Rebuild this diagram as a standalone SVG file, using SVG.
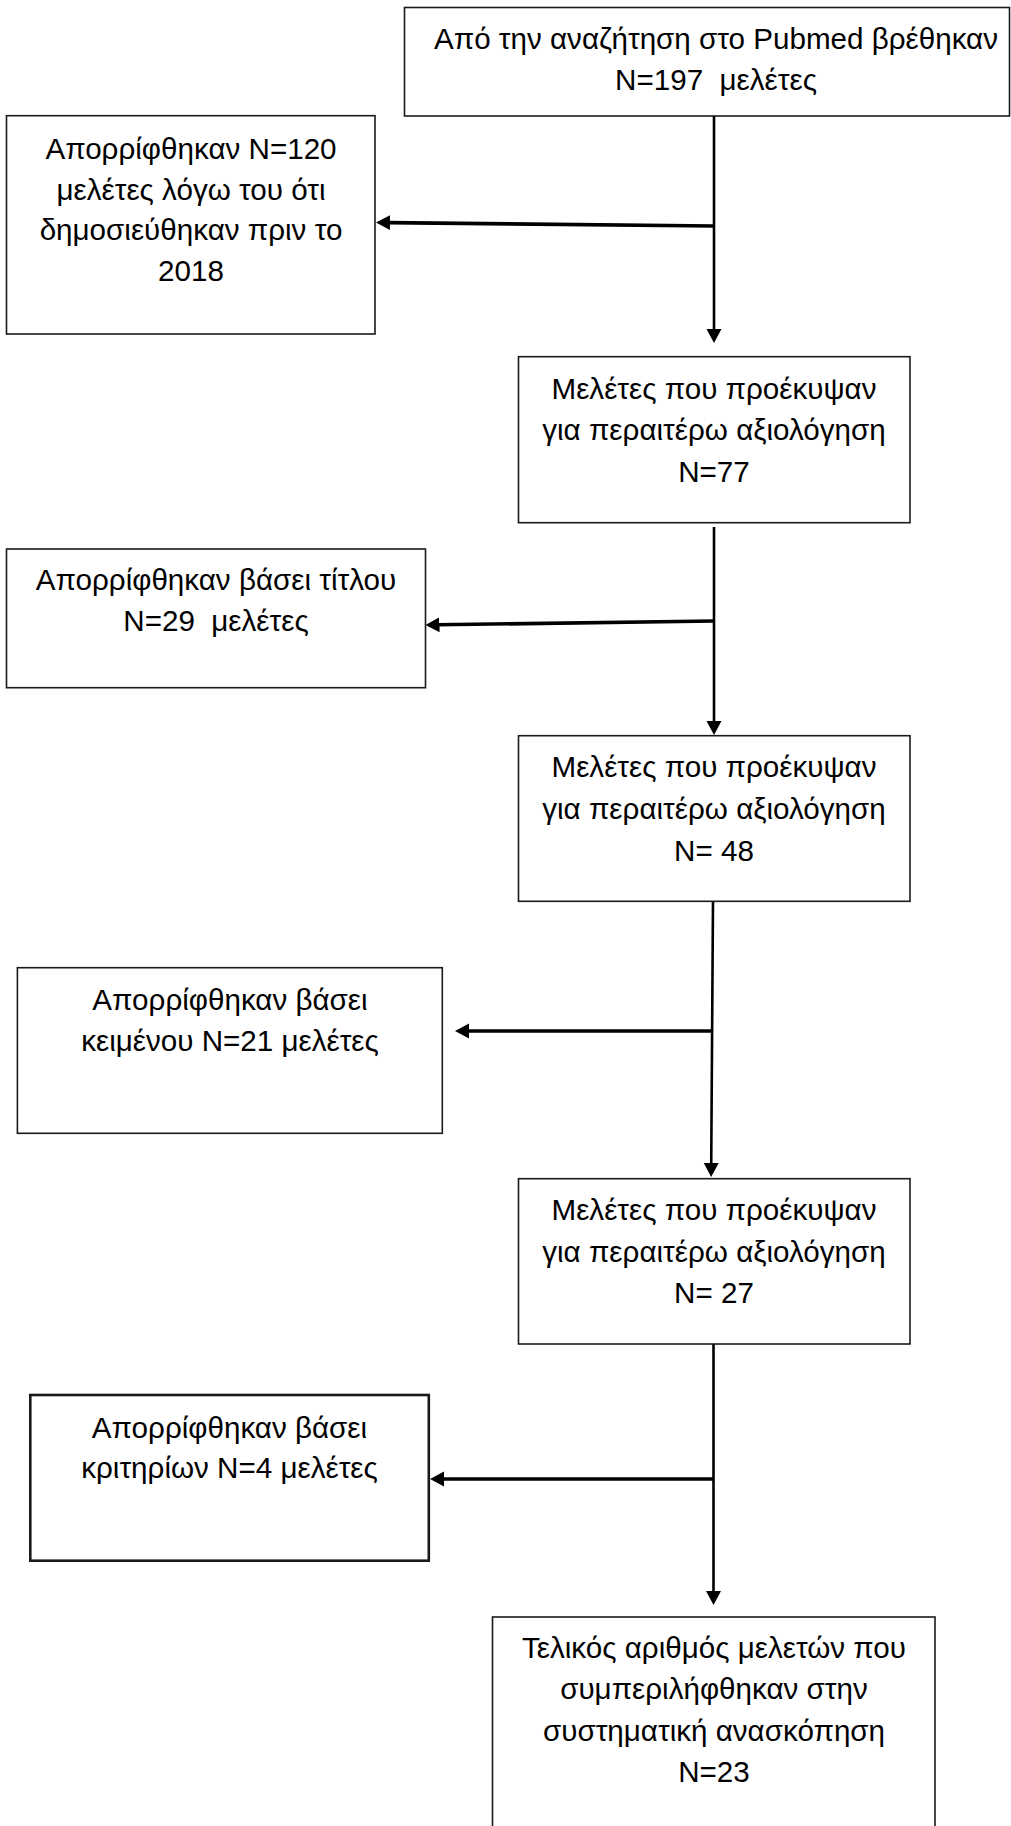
<svg xmlns="http://www.w3.org/2000/svg" width="1011" height="1826" viewBox="0 0 1011 1826">
<defs>
<style>
.box{fill:#fff;stroke:#1a1a1a;stroke-width:1.6}
.thick{stroke-width:2.6}
.t{font-family:"Liberation Sans",Arial,sans-serif;font-size:29.6px;fill:#000;text-anchor:middle;white-space:pre}
.v{fill:none;stroke:#000;stroke-width:2.6}
.h{fill:none;stroke:#000;stroke-width:3.6}
</style>
<marker id="ah" markerUnits="userSpaceOnUse" markerWidth="16" markerHeight="16" viewBox="0 0 16 16" refX="2" refY="8" orient="auto">
<path d="M0,0.5 L14,8 L0,15.5 Z" fill="#000"/>
</marker>
</defs>
<rect width="1011" height="1826" fill="#fff"/>
<g id="connectors">
<path class="v" d="M714,116 V331" marker-end="url(#ah)"/>
<path class="h" d="M714,226 L388,222.6" marker-end="url(#ah)"/>
<path class="v" d="M714,527 V723" marker-end="url(#ah)"/>
<path class="h" d="M714,621 L437.5,624.8" marker-end="url(#ah)"/>
<path class="v" d="M713,901 L711.2,1165" marker-end="url(#ah)"/>
<path class="h" d="M713,1031 L467,1031" marker-end="url(#ah)"/>
<path class="v" d="M713.5,1344 V1593" marker-end="url(#ah)"/>
<path class="h" d="M714,1479 L442,1479" marker-end="url(#ah)"/>
</g>
<g id="n1">
<rect class="box" x="404.5" y="7.5" width="605" height="108.5"/>
<text class="t" x="716" y="49">Από την αναζήτηση στο Pubmed βρέθηκαν</text>
<text class="t" x="716" y="90">N=197  μελέτες</text>
</g>
<g id="r1">
<rect class="box" x="6.5" y="115.7" width="368.5" height="218.3"/>
<text class="t" x="191" y="159">Απορρίφθηκαν N=120</text>
<text class="t" x="191" y="200">μελέτες λόγω του ότι</text>
<text class="t" x="191" y="240">δημοσιεύθηκαν πριν το</text>
<text class="t" x="191" y="281">2018</text>
</g>
<g id="n2">
<rect class="box" x="518.5" y="356.7" width="391.5" height="166"/>
<text class="t" x="714" y="399">Μελέτες που προέκυψαν</text>
<text class="t" x="714" y="440">για περαιτέρω αξιολόγηση</text>
<text class="t" x="714" y="481.5">N=77</text>
</g>
<g id="r2">
<rect class="box" x="6.5" y="549" width="419" height="138.7"/>
<text class="t" x="216" y="590">Απορρίφθηκαν βάσει τίτλου</text>
<text class="t" x="216" y="631">N=29  μελέτες</text>
</g>
<g id="n3">
<rect class="box" x="518.5" y="735.7" width="391.5" height="165.6"/>
<text class="t" x="714" y="777.3">Μελέτες που προέκυψαν</text>
<text class="t" x="714" y="819">για περαιτέρω αξιολόγηση</text>
<text class="t" x="714" y="861">N= 48</text>
</g>
<g id="r3">
<rect class="box" x="17.4" y="967.7" width="424.9" height="165.6"/>
<text class="t" x="230" y="1010">Απορρίφθηκαν βάσει</text>
<text class="t" x="230" y="1050.7">κειμένου N=21 μελέτες</text>
</g>
<g id="n4">
<rect class="box" x="518.5" y="1178.7" width="391.5" height="165.3"/>
<text class="t" x="714" y="1220">Μελέτες που προέκυψαν</text>
<text class="t" x="714" y="1261.7">για περαιτέρω αξιολόγηση</text>
<text class="t" x="714" y="1303.3">N= 27</text>
</g>
<g id="r4">
<rect class="box thick" x="30.3" y="1395" width="398.5" height="165.7"/>
<text class="t" x="229.5" y="1437.7">Απορρίφθηκαν βάσει</text>
<text class="t" x="229.5" y="1478.3">κριτηρίων N=4 μελέτες</text>
</g>
<g id="n5">
<rect class="box" x="492.5" y="1617" width="442.5" height="220"/>
<text class="t" x="714" y="1657.7">Τελικός αριθμός μελετών που</text>
<text class="t" x="714" y="1699">συμπεριλήφθηκαν στην</text>
<text class="t" x="714" y="1740.5">συστηματική ανασκόπηση</text>
<text class="t" x="714" y="1782">N=23</text>
</g>
</svg>
